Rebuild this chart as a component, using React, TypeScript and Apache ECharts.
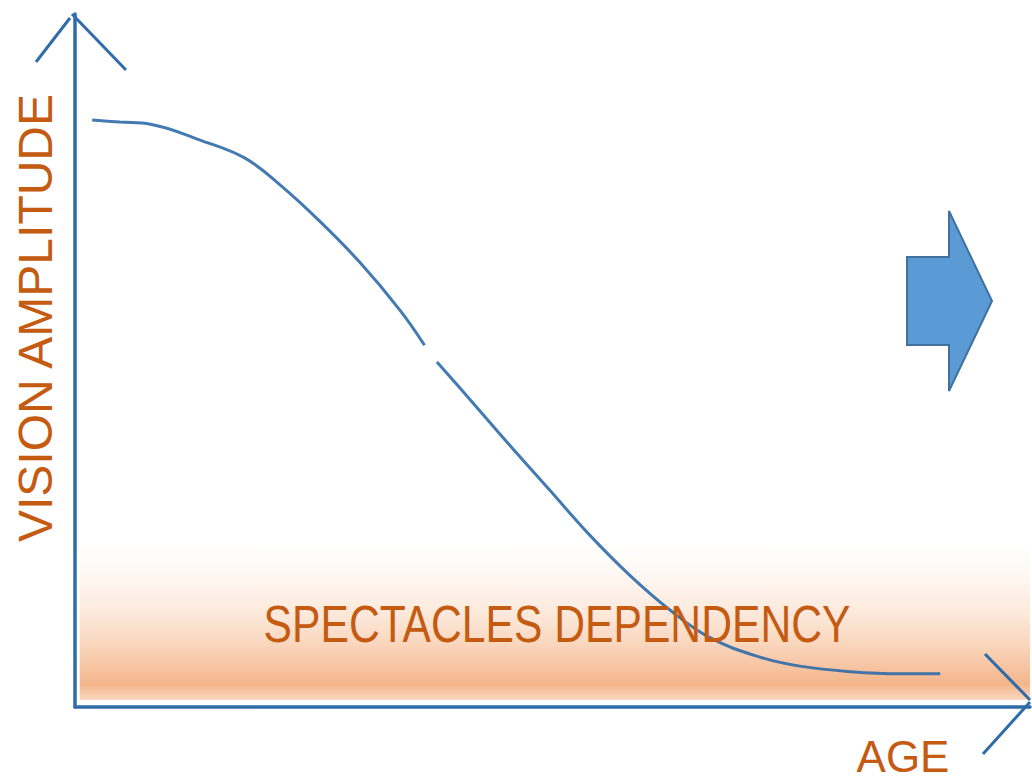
import React, { useEffect, useRef } from "react";
import * as echarts from "echarts";

// Age axis (0-100) and vision amplitude (0-100)
const ageA = [1.8, 4.7, 7.9, 13.1, 17.8, 21.5, 25.7, 29.8, 34.0, 36.6];
const ampA = [84.7, 84.4, 84.1, 81.8, 79.2, 75.3, 70.0, 64.2, 57.3, 52.2];
const ageB = [37.9, 41.4, 45.5, 49.7, 53.9, 58.1, 62.3, 66.5, 71.7, 75.9, 81.2, 86.4, 90.6];
const ampB = [49.8, 44.3, 37.8, 31.3, 24.8, 19.0, 14.0, 10.0, 7.2, 5.9, 5.1, 4.8, 4.8];

const bandLow = 1;
const bandHigh = 24;

const yTitle = "VISION AMPLITUDE";
const xTitle = "AGE";
const bandLabel = "SPECTACLES DEPENDENCY";

const BLUE = "#2f6ca9";
const ORANGE = "#c55a11";

export default function App() {
  const ref = useRef<HTMLDivElement>(null);
  useEffect(() => {
    if (!ref.current) return;
    const chart = echarts.init(ref.current, undefined, { renderer: "svg" });
    const data: any[] = [];
    ageA.forEach((a, i) => data.push([a, ampA[i]]));
    data.push([37.2, null]);
    ageB.forEach((a, i) => data.push([a, ampB[i]]));

    const Z = 100;
    chart.setOption({
      animation: false,
      backgroundColor: "#ffffff",
      grid: { left: 75, right: 2, top: 14, bottom: 73 },
      xAxis: {
        type: "value",
        min: 0,
        max: 100,
        axisLine: { show: true, lineStyle: { color: BLUE, width: 3.5 } },
        axisTick: { show: false },
        axisLabel: { show: false },
        splitLine: { show: false },
      },
      yAxis: {
        type: "value",
        min: 0,
        max: 100,
        axisLine: { show: true, lineStyle: { color: BLUE, width: 3.5 } },
        axisTick: { show: false },
        axisLabel: { show: false },
        splitLine: { show: false },
      },
      series: [
        {
          type: "line",
          data,
          smooth: 0.4,
          connectNulls: false,
          showSymbol: false,
          z: 5,
          lineStyle: { color: BLUE, width: 3, opacity: 0.9 },
          markArea: {
            silent: true,
            z: 1,
            itemStyle: {
              color: new echarts.graphic.LinearGradient(0, 0, 0, 1, [
                { offset: 0, color: "rgba(252,233,220,0)" },
                { offset: 0.45, color: "rgba(250,215,190,0.55)" },
                { offset: 0.9, color: "rgba(244,177,131,0.95)" },
                { offset: 1, color: "rgba(246,190,150,0.6)" },
              ]),
            },
            data: [[{ xAxis: 0.5, yAxis: bandHigh }, { xAxis: 100, yAxis: bandLow }]],
          },
        },
      ],
      graphic: [
        {
          type: "polyline",
          z: Z,
          shape: { points: [[36, 62], [70, 18]] },
          style: { stroke: BLUE, lineWidth: 3, fill: null },
        },
        {
          type: "polyline",
          z: Z,
          shape: { points: [[72, 14], [126, 70]] },
          style: { stroke: BLUE, lineWidth: 3, fill: null },
        },
        {
          type: "polyline",
          z: Z,
          shape: { points: [[985, 654], [1030, 700]] },
          style: { stroke: BLUE, lineWidth: 3, fill: null },
        },
        {
          type: "polyline",
          z: Z,
          shape: { points: [[983, 754], [1030, 702]] },
          style: { stroke: BLUE, lineWidth: 3, fill: null },
        },
        {
          type: "polygon",
          z: Z,
          shape: {
            points: [[907, 257], [949, 257], [949, 211], [992, 301], [949, 391], [949, 345], [907, 345]],
          },
          style: { fill: "#5b9bd5", stroke: "#41719c", lineWidth: 2 },
        },
        {
          type: "text",
          z: Z,
          x: 35,
          y: 318,
          rotation: Math.PI / 2,
          style: {
            text: yTitle,
            fill: ORANGE,
            font: '48px "Liberation Sans", Arial, sans-serif',
            align: "center",
            verticalAlign: "middle",
          },
        },
        {
          type: "text",
          z: Z,
          x: 557,
          y: 624,
          scaleX: 0.82,
          style: {
            text: bandLabel,
            fill: ORANGE,
            font: '52px "Liberation Sans", Arial, sans-serif',
            align: "center",
            verticalAlign: "middle",
          },
        },
        {
          type: "text",
          z: Z,
          x: 903,
          y: 756,
          style: {
            text: xTitle,
            fill: ORANGE,
            font: '44px "Liberation Sans", Arial, sans-serif',
            align: "center",
            verticalAlign: "middle",
          },
        },
      ],
    });
    return () => chart.dispose();
  }, []);
  return (
    <div
      ref={ref}
      style={{ position: "fixed", left: 0, top: 0, width: 1032, height: 780 }}
    />
  );
}
